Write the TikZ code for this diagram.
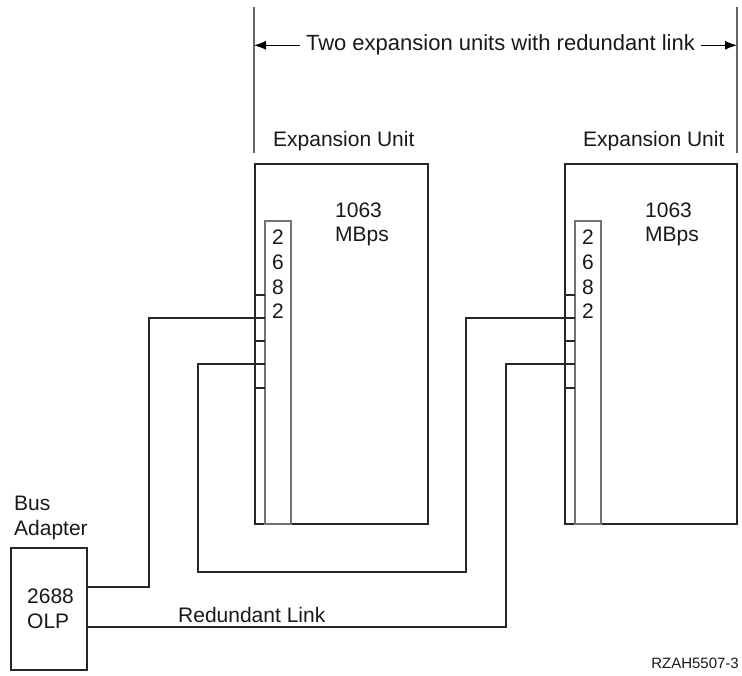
\documentclass[tikz,border=0pt]{standalone}
\usepackage{fontspec}
\setmainfont{Liberation Sans}
\usetikzlibrary{arrows.meta}
\begin{document}
\begin{tikzpicture}[x=1pt,y=-1pt,
  line/.style={draw=black!85, line width=1.1pt},
  grayline/.style={draw=black!55, line width=1.1pt},
  box/.style={line, rectangle, inner sep=0pt, outer sep=0pt, anchor=north west},
  stripbox/.style={grayline, rectangle, inner sep=0pt, outer sep=0pt, anchor=north west, minimum width=26pt, minimum height=303pt},
  lbl/.style={inner sep=0pt, font=\fontsize{21}{24}\selectfont, text=black!90},
  biglbl/.style={inner sep=0pt, font=\fontsize{22}{25}\selectfont, text=black!90},
  small/.style={inner sep=0pt, font=\fontsize{15}{18}\selectfont, text=black!90},
  dimline/.style={draw=black!60, line width=1.1pt},
  arr/.style={draw=black, line width=1pt, -{Latex[length=12pt,width=9pt]}}
]
\useasboundingbox (0,0) rectangle (742,676);

% dimension at top
\coordinate (dlt) at (254,7);
\coordinate (dlb) at (254,153);
\coordinate (drt) at (737,7);
\coordinate (drb) at (737,153);
\draw[dimline] (dlt) -- (dlb);
\draw[dimline] (drt) -- (drb);
\node[biglbl, anchor=base, inner xsep=6pt] (dimtxt) at (500.5,51) {Two expansion units with redundant link};
\draw[arr] (dimtxt.west) -- (dlt |- dimtxt.west);
\draw[arr] (dimtxt.east) -- (drt |- dimtxt.east);

% expansion units
\node[lbl, anchor=base west] (eu1) at (273,147) {Expansion Unit};
\node[lbl, anchor=base west] (eu2) at (583,147) {Expansion Unit};

\node[box, minimum width=173pt, minimum height=360pt] (u1) at (255,164) {};
\node[box, minimum width=172pt, minimum height=360pt] (u2) at (565,164) {};

\node[stripbox] (s1) at (265,221) {};
\node[stripbox] (s2) at (575,221) {};

\node[lbl, anchor=base west] (r1a) at (335,218) {1063};
\node[lbl, anchor=base west] (r1b) at (335,242) {MBps};
\node[lbl, anchor=base west] (r2a) at (645,218) {1063};
\node[lbl, anchor=base west] (r2b) at (645,242) {MBps};

\foreach \u/\x in {1/278, 2/588}{
  \node[lbl, anchor=base] (d\u a) at (\x,245) {2};
  \node[lbl, anchor=base] (d\u b) at (\x,270) {6};
  \node[lbl, anchor=base] (d\u c) at (\x,295) {8};
  \node[lbl, anchor=base] (d\u d) at (\x,319) {2};
}

% connector ticks
\coordinate (ta) at (0,295);
\coordinate (tb) at (0,341);
\coordinate (tc) at (0,388);
\coordinate (pa) at (0,318);
\coordinate (pb) at (0,364);
\foreach \t in {ta,tb,tc}{
  \draw[line] (u1.west |- \t) -- (s1.west |- \t);
  \draw[line] (u2.west |- \t) -- (s2.west |- \t);
}

% bus adapter
\node[lbl, anchor=base west] (bus) at (14,510) {Bus};
\node[lbl, anchor=base west] (adp) at (14,535) {Adapter};
\node[box, minimum width=76pt, minimum height=122pt] (ad) at (11,548) {};
\node[lbl, anchor=base west] (olp1) at (27,603) {2688};
\node[lbl, anchor=base west] (olp2) at (27,628) {OLP};

% cables
\coordinate (c1a) at (149,587);
\coordinate (c1b) at (149,318);
\draw[line] (ad.east |- c1a) -- (c1a) -- (c1b) -- (s1.west |- pa);

\coordinate (c2a) at (198,364);
\coordinate (c2b) at (198,572);
\coordinate (c2c) at (466,572);
\coordinate (c2d) at (466,318);
\draw[line] (s1.west |- pb) -- (c2a) -- (c2b) -- (c2c) -- (c2d) -- (s2.west |- pa);

\coordinate (c3a) at (506,627);
\coordinate (c3b) at (506,364);
\draw[line] (ad.east |- c3a) -- (c3a) -- (c3b) -- (s2.west |- pb);
\node[lbl, anchor=base west] (rl) at (178,622) {Redundant Link};

\node[small, anchor=base east] (fig) at (739,668) {RZAH5507-3};
\end{tikzpicture}
\end{document}
